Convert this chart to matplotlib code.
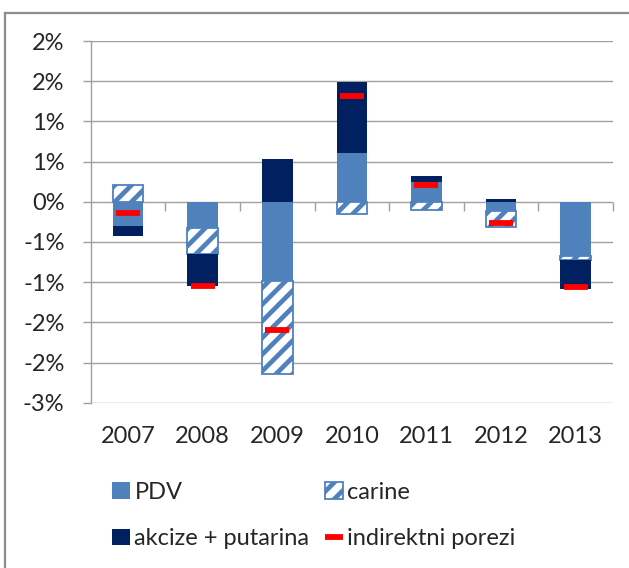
import numpy as np
import matplotlib
matplotlib.use("Agg")
import matplotlib.pyplot as plt
from matplotlib.patches import Patch
from matplotlib.lines import Line2D

# podaci (doprinos rastu, u %)
years = ["2007", "2008", "2009", "2010", "2011", "2012", "2013"]
pdv = [-0.30, -0.33, -0.99, 0.61, 0.24, -0.11, -0.68]
carine = [0.21, -0.32, -1.15, -0.15, -0.10, -0.21, -0.04]
akcize = [-0.12, -0.40, 0.53, 0.88, 0.08, 0.03, -0.36]
indirektni = [-0.14, -1.05, -1.60, 1.31, 0.21, -0.27, -1.06]

y_ticks = np.arange(-2.5, 2.01, 0.5)

BLUE = "#4F81BD"
NAVY = "#002060"
RED = "#FF0000"
GRID = "#A0A0A0"
TXT = "#262626"

plt.rcParams["font.family"] = ["Lato", "DejaVu Sans"]
plt.rcParams["hatch.linewidth"] = 3.4

W, H = 629, 568
fig = plt.figure(figsize=(W / 100, H / 100), dpi=100)
ax = fig.add_axes([90.7 / W, 1 - 402.7 / H, (613 - 90.7) / W, (402.7 - 41) / H])

x = np.arange(len(years))
bw = 0.41
pos = np.zeros(len(years))
neg = np.zeros(len(years))

styles = [
    (pdv, dict(color=BLUE, linewidth=0)),
    (carine, dict(facecolor="white", edgecolor=BLUE, hatch="//", linewidth=1.3)),
    (akcize, dict(color=NAVY, linewidth=0)),
]
for vals, st in styles:
    v = np.array(vals)
    bottom = np.where(v >= 0, pos, neg)
    ax.bar(x, v, width=bw, bottom=bottom, zorder=2, **st)
    pos += np.clip(v, 0, None)
    neg += np.clip(v, None, 0)

ax.plot(x, indirektni, linestyle="none", marker="_", markersize=17,
        markeredgewidth=4.2, color=RED, zorder=4)

ax.set_xlim(-0.5, len(years) - 0.5)
ax.set_ylim(y_ticks[0], y_ticks[-1])
ax.set_yticks(y_ticks)


def excel_pct(v):
    # Excel zaokruzuje polovine od nule
    r = int(np.floor(abs(v) + 0.5 + 1e-9))
    if r == 0:
        return "0%"
    return ("-" if v < 0 else "") + f"{r}%"


ax.set_yticklabels([excel_pct(v) for v in y_ticks])
ax.set_xticks(x)
ax.set_xticklabels(years)

ax.grid(axis="y", color=GRID, linewidth=1.0)
ax.set_axisbelow(True)
for s in ["top", "right", "bottom"]:
    ax.spines[s].set_visible(False)
ax.spines["left"].set_color(GRID)
ax.spines["left"].set_linewidth(1.0)
ax.tick_params(axis="y", length=5.8, width=1.0, color=GRID, pad=13,
               labelsize=17, labelcolor=TXT)
ax.tick_params(axis="x", length=0, pad=17, labelsize=17, labelcolor=TXT)

# crtice izmedju kategorija na nultoj liniji
ax.vlines(x + 0.5, -0.11, 0, color=GRID, linewidth=1.0, zorder=1,
          clip_on=False)

# legenda u dva stupca
h_pdv = Patch(facecolor=BLUE, edgecolor="none")
h_car = Patch(facecolor="white", edgecolor=BLUE, hatch="//", linewidth=1.3)
h_akc = Patch(facecolor=NAVY, edgecolor="none")
h_ind = Line2D([], [], color=RED, linewidth=4.2, solid_capstyle="butt")

leg_kw = dict(loc="upper left", frameon=False, fontsize=17, borderpad=0,
              borderaxespad=0, handlelength=0.75, handletextpad=0.2,
              labelspacing=1.07, labelcolor=TXT)
fig.legend([h_pdv, h_akc], ["PDV", "akcize + putarina"],
           bbox_to_anchor=(112 / W, 1 - 482 / H), **leg_kw)
fig.legend([h_car, h_ind], ["carine", "indirektni porezi"],
           bbox_to_anchor=(325 / W, 1 - 482 / H), **leg_kw)

# okvir grafikona (samo gornji i lijevi rub vidljiv)
fig.add_artist(Line2D([5 / W, 1], [1 - 12.5 / H, 1 - 12.5 / H],
                      transform=fig.transFigure, color="#8C8C8C", linewidth=1.6))
fig.add_artist(Line2D([5 / W, 5 / W], [0, 1 - 12.5 / H],
                      transform=fig.transFigure, color="#8C8C8C", linewidth=1.6))

fig.savefig("out.png", dpi=100)
